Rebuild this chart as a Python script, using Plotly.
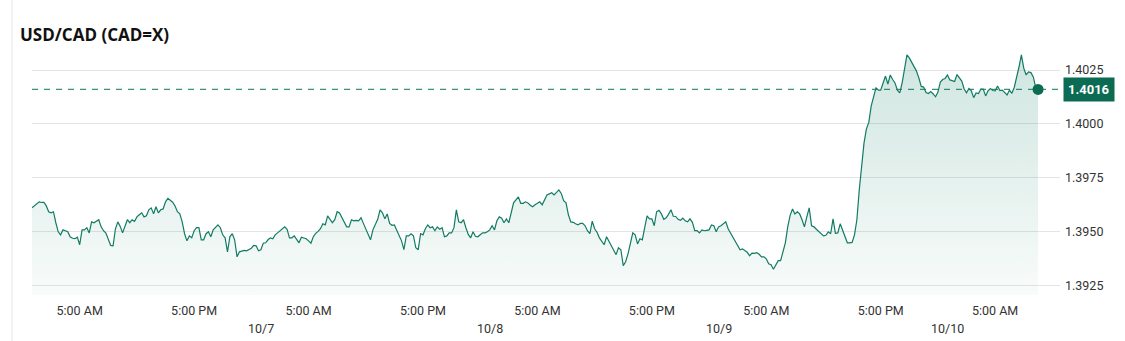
import pandas as pd
import plotly.graph_objects as go

# USD/CAD quotes, 15-minute bars starting Monday 2025-10-06 00:00
start_time = "2025-10-06 00:00"
bar_freq = "15min"
prices = [
    1.39611, 1.39620, 1.39630, 1.39639, 1.39636, 1.39636, 1.39620, 1.39593, 1.39588, 1.39593,
    1.39542, 1.39500, 1.39486, 1.39509, 1.39505, 1.39500, 1.39477, 1.39470, 1.39468, 1.39475,
    1.39440, 1.39509, 1.39509, 1.39519, 1.39495, 1.39546, 1.39542, 1.39549, 1.39556, 1.39523,
    1.39505, 1.39494, 1.39463, 1.39437, 1.39435, 1.39514, 1.39546, 1.39525, 1.39495, 1.39525,
    1.39556, 1.39542, 1.39556, 1.39548, 1.39569, 1.39579, 1.39588, 1.39569, 1.39574, 1.39602,
    1.39611, 1.39583, 1.39616, 1.39588, 1.39602, 1.39606, 1.39639, 1.39655, 1.39648, 1.39637,
    1.39620, 1.39593, 1.39583, 1.39546, 1.39491, 1.39458, 1.39481, 1.39472, 1.39505, 1.39519,
    1.39519, 1.39463, 1.39463, 1.39491, 1.39500, 1.39477, 1.39509, 1.39523, 1.39532, 1.39519,
    1.39486, 1.39472, 1.39407, 1.39477, 1.39491, 1.39463, 1.39384, 1.39407, 1.39412, 1.39414,
    1.39412, 1.39417, 1.39424, 1.39437, 1.39435, 1.39412, 1.39417, 1.39447, 1.39449, 1.39463,
    1.39472, 1.39468, 1.39486, 1.39495, 1.39505, 1.39516, 1.39523, 1.39512, 1.39472, 1.39472,
    1.39481, 1.39465, 1.39449, 1.39475, 1.39472, 1.39468, 1.39458, 1.39447, 1.39477, 1.39493,
    1.39502, 1.39514, 1.39537, 1.39532, 1.39574, 1.39556, 1.39542, 1.39556, 1.39593, 1.39587,
    1.39565, 1.39546, 1.39523, 1.39523, 1.39556, 1.39551, 1.39553, 1.39551, 1.39565, 1.39539,
    1.39514, 1.39491, 1.39463, 1.39509, 1.39532, 1.39558, 1.39602, 1.39588, 1.39560, 1.39583,
    1.39539, 1.39530, 1.39532, 1.39509, 1.39486, 1.39458, 1.39417, 1.39481, 1.39481, 1.39491,
    1.39481, 1.39426, 1.39417, 1.39491, 1.39486, 1.39514, 1.39532, 1.39519, 1.39523, 1.39505,
    1.39523, 1.39512, 1.39519, 1.39477, 1.39481, 1.39495, 1.39495, 1.39519, 1.39602, 1.39546,
    1.39542, 1.39556, 1.39519, 1.39488, 1.39472, 1.39500, 1.39479, 1.39477, 1.39486, 1.39495,
    1.39495, 1.39500, 1.39509, 1.39528, 1.39509, 1.39551, 1.39569, 1.39563, 1.39542, 1.39560,
    1.39542, 1.39590, 1.39634, 1.39648, 1.39662, 1.39632, 1.39632, 1.39639, 1.39634, 1.39623,
    1.39616, 1.39625, 1.39632, 1.39639, 1.39625, 1.39650, 1.39671, 1.39676, 1.39681, 1.39671,
    1.39681, 1.39694, 1.39678, 1.39644, 1.39634, 1.39579, 1.39546, 1.39544, 1.39537, 1.39532,
    1.39539, 1.39539, 1.39528, 1.39505, 1.39491, 1.39549, 1.39514, 1.39498, 1.39472, 1.39456,
    1.39440, 1.39477, 1.39456, 1.39437, 1.39421, 1.39394, 1.39426, 1.39417, 1.39343, 1.39361,
    1.39398, 1.39454, 1.39495, 1.39486, 1.39444, 1.39468, 1.39463, 1.39519, 1.39574, 1.39560,
    1.39560, 1.39528, 1.39593, 1.39600, 1.39583, 1.39558, 1.39565, 1.39581, 1.39602, 1.39572,
    1.39571, 1.39558, 1.39553, 1.39563, 1.39551, 1.39546, 1.39560, 1.39544, 1.39505, 1.39505,
    1.39495, 1.39509, 1.39505, 1.39507, 1.39509, 1.39532, 1.39528, 1.39500, 1.39523, 1.39528,
    1.39539, 1.39546, 1.39514, 1.39495, 1.39472, 1.39454, 1.39437, 1.39417, 1.39421, 1.39414,
    1.39405, 1.39389, 1.39401, 1.39400, 1.39403, 1.39396, 1.39384, 1.39384, 1.39375, 1.39352,
    1.39347, 1.39326, 1.39345, 1.39366, 1.39366, 1.39403, 1.39449, 1.39523, 1.39576, 1.39606,
    1.39583, 1.39593, 1.39583, 1.39556, 1.39523, 1.39569, 1.39611, 1.39528, 1.39523, 1.39512,
    1.39500, 1.39491, 1.39481, 1.39484, 1.39500, 1.39491, 1.39560, 1.39493, 1.39495, 1.39537,
    1.39505, 1.39475, 1.39449, 1.39449, 1.39451, 1.39486, 1.39556, 1.39694, 1.39810, 1.39912,
    1.39977, 1.40007, 1.40083, 1.40130, 1.40167, 1.40157, 1.40157, 1.40190, 1.40222, 1.40185,
    1.40227, 1.40206, 1.40190, 1.40157, 1.40144, 1.40192, 1.40259, 1.40320, 1.40306, 1.40287,
    1.40269, 1.40245, 1.40213, 1.40174, 1.40171, 1.40146, 1.40141, 1.40150, 1.40139, 1.40126,
    1.40148, 1.40194, 1.40206, 1.40211, 1.40227, 1.40204, 1.40201, 1.40197, 1.40229, 1.40213,
    1.40199, 1.40162, 1.40144, 1.40164, 1.40153, 1.40122, 1.40144, 1.40141, 1.40162, 1.40162,
    1.40130, 1.40153, 1.40164, 1.40155, 1.40153, 1.40176, 1.40155, 1.40157, 1.40146, 1.40134,
    1.40157, 1.40142, 1.40169, 1.40213, 1.40264, 1.40320, 1.40259, 1.40227, 1.40241, 1.40238,
    1.40218, 1.40169, 1.40160,
]

title_text = "USD/CAD (CAD=X)"
y_ticks = [1.3925, 1.3950, 1.3975, 1.4000, 1.4025]
x_tick_times = ["2025-10-06 05:00", "2025-10-06 17:00", "2025-10-07 05:00", "2025-10-07 17:00",
                "2025-10-08 05:00", "2025-10-08 17:00", "2025-10-09 05:00", "2025-10-09 17:00",
                "2025-10-10 05:00"]
x_tick_labels = ["5:00 AM", "5:00 PM", "5:00 AM", "5:00 PM", "5:00 AM", "5:00 PM",
                 "5:00 AM", "5:00 PM", "5:00 AM"]
date_times = ["2025-10-07", "2025-10-08", "2025-10-09", "2025-10-10"]
date_labels = ["10/7", "10/8", "10/9", "10/10"]
x_range = ["2025-10-06 00:00", "2025-10-10 11:48"]
y_range = [1.39207, 1.40366]

times = pd.date_range(start_time, periods=len(prices), freq=bar_freq)
last_price = prices[-1]

LINE = "#127b63"
DARK = "#0b6b53"
TEXT = "#333333"
GRID = "#e4e4e4"

fig = go.Figure()

# baseline at the bottom of the price axis for the shaded area
fig.add_trace(go.Scatter(
    x=times, y=[y_range[0]] * len(times), mode="lines",
    line=dict(width=0, color="rgba(0,0,0,0)"), hoverinfo="skip", showlegend=False,
))
fig.add_trace(go.Scatter(
    x=times, y=prices, mode="lines",
    line=dict(color=LINE, width=1.2),
    fill="tonexty",
    fillgradient=dict(
        type="vertical",
        start=y_range[0], stop=1.4032,
        colorscale=[[0, "rgba(20,130,100,0.03)"], [1, "rgba(20,130,100,0.20)"]],
    ),
    hoverinfo="skip", showlegend=False,
))
# latest quote marker
fig.add_trace(go.Scatter(
    x=[times[-1]], y=[last_price], mode="markers",
    marker=dict(color=DARK, size=11), hoverinfo="skip", showlegend=False,
))

# dashed reference line at the latest quote
fig.add_shape(type="line", xref="paper", x0=0, x1=1, yref="y", y0=last_price, y1=last_price,
              line=dict(color="#3a9077", width=1.3, dash="6px,6px"), layer="below")

# latest quote badge on the price axis
fig.add_annotation(
    xref="paper", x=1, yref="y", y=last_price, xanchor="left", yanchor="middle",
    xshift=3, text=f"<b>{last_price:.4f}</b>", showarrow=False,
    font=dict(family="Roboto, Arial, sans-serif", size=13, color="white"),
    bgcolor=DARK, borderpad=4,
)

# day labels centred on midnight, under the time ticks
for t, lab in zip(date_times, date_labels):
    fig.add_annotation(
        xref="x", x=t, yref="paper", y=0, xanchor="center", yanchor="top",
        yshift=-24, text=lab, showarrow=False,
        font=dict(family="Roboto, Arial, sans-serif", size=12.5, color=TEXT),
    )

# container edge on the left
fig.add_shape(type="line", xref="paper", x0=-0.0195, x1=-0.0195, yref="paper", y0=-0.2, y1=1.2,
              line=dict(color="#e6e6e6", width=1))

fig.update_layout(
    width=1125, height=341,
    margin=dict(l=32, r=65, t=45, b=46),
    paper_bgcolor="white", plot_bgcolor="white",
    title=dict(text=f"<b>{title_text}</b>", x=20 / 1125, xanchor="left",
               y=1 - 35 / 341, yanchor="middle",
               font=dict(family="Open Sans, Noto Sans, sans-serif", size=17, color="#111111")),
    xaxis=dict(
        range=x_range, tickmode="array", tickvals=x_tick_times, ticktext=x_tick_labels,
        showgrid=False, zeroline=False, showline=False, ticks="",
        ticklabelstandoff=6,
        tickfont=dict(family="Roboto, Arial, sans-serif", size=12.5, color=TEXT),
    ),
    yaxis=dict(
        range=y_range, side="right", tickmode="array", tickvals=y_ticks,
        ticktext=[f"{v:.4f}" for v in y_ticks],
        showgrid=True, gridcolor=GRID, gridwidth=1, zeroline=False, showline=False, ticks="",
        ticklabelstandoff=4,
        tickfont=dict(family="Roboto, Arial, sans-serif", size=12.5, color=TEXT),
    ),
)

fig.write_html("out.html")
